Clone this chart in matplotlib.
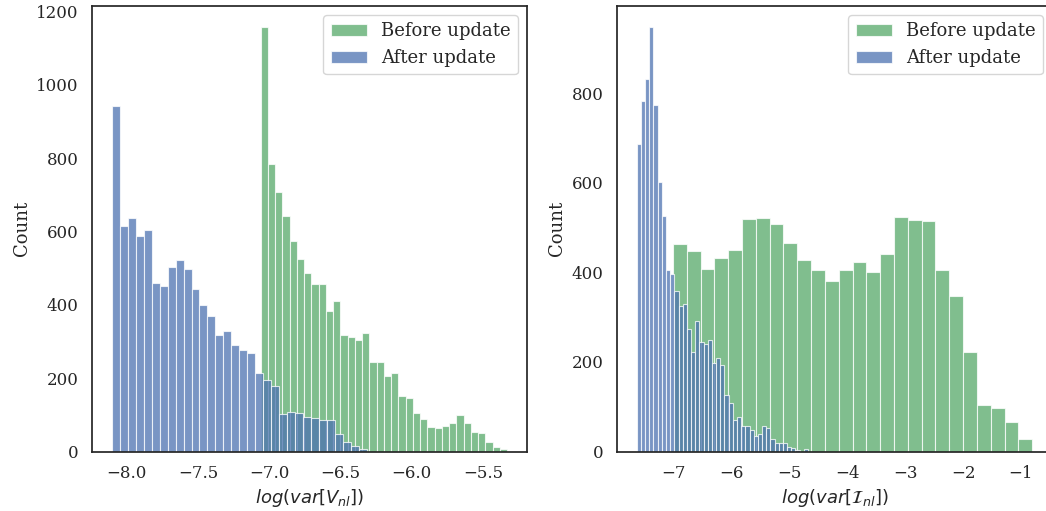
import numpy as np
import matplotlib
matplotlib.use("Agg")
import matplotlib.pyplot as plt
import seaborn as sns

# bin ranges and counts of log-variance before / after the update
v_before_range = (-7.06, -5.329)
v_before_counts = [1157, 785, 708, 642, 573, 524, 486, 458, 458, 384, 410, 317,
                   312, 305, 323, 243, 243, 206, 213, 150, 147, 104, 89, 67,
                   65, 70, 77, 99, 77, 53, 50, 27, 13, 6]

v_after_range = (-8.105, -6.314)
v_after_counts = [942, 616, 636, 588, 604, 460, 450, 504, 522, 499, 444, 400,
                  370, 317, 328, 290, 276, 269, 213, 196, 179, 101, 107, 105,
                  94, 90, 85, 85, 47, 25, 16, 7]

i_before_range = (-7.017, -0.804)
i_before_counts = [463, 447, 407, 432, 449, 520, 521, 508, 465, 427, 405, 380,
                   404, 423, 400, 441, 523, 517, 514, 405, 346, 222, 104, 98,
                   66, 27]

i_after_range = (-7.641, -4.681)
i_after_counts = [687, 783, 832, 947, 774, 601, 526, 406, 397, 359, 325, 330,
                  274, 222, 292, 244, 241, 249, 197, 208, 193, 126, 109, 71,
                  77, 57, 57, 47, 35, 39, 57, 53, 28, 19, 19, 19, 11, 8, 3,
                  0, 5]

labels = ["Before update", "After update"]
colors = ["#55A868", "#4C72B0"]

sns.set_theme(style="white", font="serif")
plt.rcParams["xtick.labelsize"] = 12
plt.rcParams["ytick.labelsize"] = 12


def draw_hist(ax, rng, counts, color, label):
    edges = np.linspace(rng[0], rng[1], len(counts) + 1)
    centers = 0.5 * (edges[:-1] + edges[1:])
    ax.hist(centers, bins=edges, weights=counts, color=color, alpha=0.75,
            edgecolor="white", linewidth=0.8, label=label)


fig = plt.figure(figsize=(10.46, 5.11), dpi=100)
ax1 = fig.add_axes([92 / 1046, 59.5 / 511, 435 / 1046, 445.5 / 511])
ax2 = fig.add_axes([617 / 1046, 59.5 / 511, 435 / 1046, 445.5 / 511])

draw_hist(ax1, v_before_range, v_before_counts, colors[0], labels[0])
draw_hist(ax1, v_after_range, v_after_counts, colors[1], labels[1])
ax1.set_xlabel(r"$log(var[V_{nl}])$", fontsize=13)
ax1.set_ylabel("Count", fontsize=13)
ax1.legend(loc="upper right", fontsize=13)

draw_hist(ax2, i_before_range, i_before_counts, colors[0], labels[0])
draw_hist(ax2, i_after_range, i_after_counts, colors[1], labels[1])
ax2.set_xlabel(r"$log(var[\mathcal{I}_{nl}])$", fontsize=13)
ax2.set_ylabel("Count", fontsize=13)
ax2.legend(loc="upper right", fontsize=13)

fig.savefig("out.png", dpi=100)
